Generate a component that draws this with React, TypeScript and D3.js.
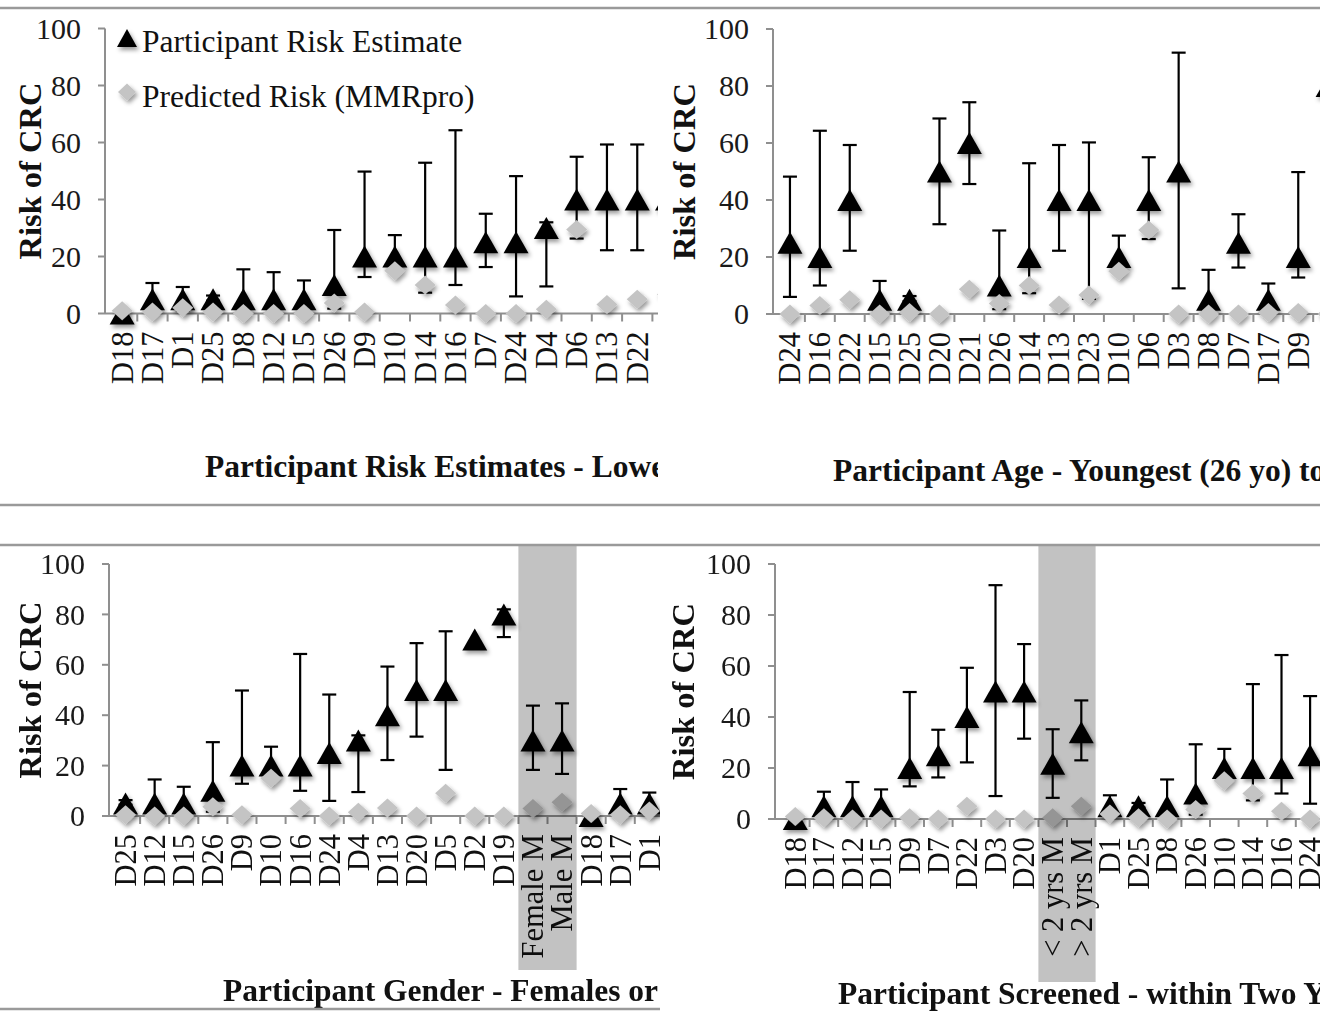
import * as d3 from 'd3';

// participant values (risk of CRC, %)
const participants = ['D1', 'D2', 'D3', 'D4', 'D5', 'D6', 'D7', 'D8', 'D9', 'D10', 'D12', 'D13', 'D14', 'D15', 'D16', 'D17', 'D18', 'D19', 'D20', 'D21', 'D22', 'D23', 'D24', 'D25', 'D26', 'Female M', 'Male M', '< 2 yrs M', '> 2 yrs M'];
const estimate = [5, 70, 50, 30, 50, 40, 25, 5, 20, 20, 5, 40, 20, 5, 20, 5, 0, 80, 50, 60, 40, 40, 25, 5, 10, 30, 30, 21.7, 34];
const errLow = [1, 70, 9, 9.5, 18.3, 26.3, 16.3, 1, 12.8, 15, 1, 22.2, 7.3, 1, 10, 1, 0, 71, 31.5, 45.6, 22.2, 5.3, 6, 4.5, 1.7, 18.3, 16.7, 8.3, 23];
const errHigh = [9.3, 70, 91.7, 32, 73.3, 55, 35, 15.5, 49.8, 27.5, 14.5, 59.3, 52.9, 11.6, 64.3, 10.7, 0, 82, 68.6, 74.3, 59.3, 60.2, 48.2, 6.3, 29.3, 43.8, 44.7, 35.2, 46.5];
const predicted = [2, 0, 0, 1.5, 9, 29.5, 0, 0, 0.5, 15, 0, 3.2, 10, 0, 3, 0.5, 1, 0, 0, 8.7, 5, 6.7, 0, 0.5, 3.7, 3, 5.5, 0.5, 5];

// category order of each panel
const riskOrder = ['D18', 'D17', 'D1', 'D25', 'D8', 'D12', 'D15', 'D26', 'D9', 'D10', 'D14', 'D16', 'D7', 'D24', 'D4', 'D6', 'D13', 'D22', 'D23'];
const ageOrder = ['D24', 'D16', 'D22', 'D15', 'D25', 'D20', 'D21', 'D26', 'D14', 'D13', 'D23', 'D10', 'D6', 'D3', 'D8', 'D7', 'D17', 'D9', 'D19'];
const genderOrder = ['D25', 'D12', 'D15', 'D26', 'D9', 'D10', 'D16', 'D24', 'D4', 'D13', 'D20', 'D5', 'D2', 'D19', 'Female M', 'Male M', 'D18', 'D17', 'D1'];
const screenedOrder = ['D18', 'D17', 'D12', 'D15', 'D9', 'D7', 'D22', 'D3', 'D20', '< 2 yrs M', '> 2 yrs M', 'D1', 'D25', 'D8', 'D26', 'D10', 'D14', 'D16', 'D24'];

const genderShade = ['Female M', 'Male M'];
const screenedShade = ['< 2 yrs M', '> 2 yrs M'];

const yTicks = [0, 20, 40, 60, 80, 100];
const seriesNames = ['Participant Risk Estimate', 'Predicted Risk (MMRpro)'];
const yTitle = 'Risk of CRC';
const titles = [
  'Participant Risk Estimates - Lowest to Highest',
  'Participant Age - Youngest (26 yo) to Oldest',
  'Participant Gender - Females or Males',
  'Participant Screened - within Two Years or Not',
];

const byId = new Map(participants.map((p, i) => [p, i]));

const panels = [
  { order: riskOrder, shade: null, clip: [0, 8, 658, 497], axisX: 105, xStart: 107, band: 30.3, y0: 313.5, y100: 28.5, yTitleX: 30, titleX: 205, titleY: 466, legend: true },
  { order: ageOrder, shade: null, clip: [660, 8, 660, 497], axisX: 773, xStart: 775, band: 29.9, y0: 314, y100: 29, yTitleX: 684, titleX: 833, titleY: 470, legend: false },
  { order: genderOrder, shade: genderShade, clip: [0, 505, 660, 506], axisX: 109, xStart: 111, band: 29.1, y0: 816, y100: 564, yTitleX: 30, titleX: 223, titleY: 990, shadeBottom: 970, legend: false },
  { order: screenedOrder, shade: screenedShade, clip: [660, 505, 660, 506], axisX: 775, xStart: 781, band: 28.6, y0: 819, y100: 564, yTitleX: 683, titleX: 838, titleY: 993, shadeBottom: 982, legend: false },
];

const FONT = "'Liberation Serif', 'Times New Roman', serif";
const AXIS = '#8f8f8f';
const TRI_W = 25, TRI_H = 22;
const DIA_W = 21, DIA_H = 19;

const triangle = (w: number, h: number) => `M0,${-h / 2}L${w / 2},${h / 2}L${-w / 2},${h / 2}Z`;
const diamond = (w: number, h: number) => `M0,${-h / 2}L${w / 2},0L0,${h / 2}L${-w / 2},0Z`;

function Panel({ p, idx }: { p: any; idx: number }) {
  const x = d3.scaleBand().domain(p.order).range([p.xStart, p.xStart + p.band * p.order.length]);
  const y = d3.scaleLinear().domain([0, 100]).range([p.y0, p.y100]);
  const cx = (d: string) => (x(d) as number) + x.bandwidth() / 2;
  const [cl, ct, cw] = p.clip;
  const rows = p.order.map((d: string) => ({ id: d, i: byId.get(d) as number }));
  // labels whose glyphs would start past the panel edge are not drawn
  const labelled = p.order.filter((d: string) => cx(d) < cl + cw - 8);

  return (
    <g clipPath={`url(#clip${idx})`}>
      {/* y axis */}
      <line x1={p.axisX} x2={p.axisX} y1={y(0)} y2={y(100)} stroke={AXIS} strokeWidth={2} />
      {yTicks.map((t) => (
        <g key={t}>
          <line x1={p.axisX - 7} x2={p.axisX} y1={y(t)} y2={y(t)} stroke={AXIS} strokeWidth={2} />
          <text x={p.axisX - 24} y={y(t)} dy="0.34em" textAnchor="end" fontSize={30} fill="#1a1a1a">{t}</text>
        </g>
      ))}
      <text transform={`translate(${p.yTitleX},${(y(0) + y(100)) / 2}) rotate(-90)`} dy="0.34em" textAnchor="middle" fontSize={32.5} fontWeight="bold" fill="#111">{yTitle}</text>

      {/* x axis */}
      <line x1={p.axisX} x2={cl + cw} y1={y(0)} y2={y(0)} stroke={AXIS} strokeWidth={2} />
      {p.order.map((d: string) => (
        <line key={d} x1={(x(d) as number) + x.bandwidth()} x2={(x(d) as number) + x.bandwidth()} y1={y(0)} y2={y(0) + 8} stroke={AXIS} strokeWidth={2} />
      ))}
      {labelled.map((d: string) => (
        <text key={d} transform={`translate(${cx(d)},${y(0) + 18}) rotate(-90)`} dy="0.34em" textAnchor="end" fontSize={30.5} fill="#111">{d}</text>
      ))}

      {/* error bars */}
      {rows.filter((r: any) => errHigh[r.i] > errLow[r.i]).map((r: any) => (
        <g key={r.id} stroke="#000" strokeWidth={2.2}>
          <line x1={cx(r.id)} x2={cx(r.id)} y1={y(errLow[r.i])} y2={y(errHigh[r.i])} />
          <line x1={cx(r.id) - 7} x2={cx(r.id) + 7} y1={y(errLow[r.i])} y2={y(errLow[r.i])} />
          <line x1={cx(r.id) - 7} x2={cx(r.id) + 7} y1={y(errHigh[r.i])} y2={y(errHigh[r.i])} />
        </g>
      ))}
      {/* participant estimate */}
      {rows.map((r: any) => (
        <path key={r.id} d={triangle(TRI_W, TRI_H)} transform={`translate(${cx(r.id)},${y(estimate[r.i])})`} fill="#000" filter="url(#shadow)" />
      ))}
      {/* predicted risk */}
      {rows.map((r: any) => (
        <path key={r.id} d={diamond(DIA_W, DIA_H)} transform={`translate(${cx(r.id)},${y(predicted[r.i])})`} fill="#c4c4c4" filter="url(#shadow)" />
      ))}

      {p.shade && (
        <rect x={x(p.shade[0]) as number} width={x.bandwidth() * p.shade.length} y={ct + 41} height={p.shadeBottom - ct - 41} fill="#c2c2c2" style={{ mixBlendMode: 'multiply' }} />
      )}

      {p.legend && (
        <g>
          <path d={triangle(20, 18)} transform="translate(127,38)" fill="#000" filter="url(#shadow)" />
          <text x={142} y={41} dy="0.34em" fontSize={31.5} fill="#111">{seriesNames[0]}</text>
          <path d={diamond(18, 17)} transform="translate(127,92)" fill="#c4c4c4" filter="url(#shadow)" />
          <text x={142} y={96} dy="0.34em" fontSize={31.5} fill="#111">{seriesNames[1]}</text>
        </g>
      )}

      <text x={p.titleX} y={p.titleY} dy="0.34em" fontSize={31.5} fontWeight="bold" fill="#111">{titles[idx]}</text>
    </g>
  );
}

export default function App() {
  return (
    <div style={{ position: 'absolute', left: 0, top: 0, background: '#fff' }}>
      <svg width={1338} height={1011} fontFamily={FONT} style={{ display: 'block', background: '#fff' }}>
        <defs>
          <filter id="shadow" x="-50%" y="-50%" width="200%" height="200%">
            <feDropShadow dx={2} dy={3} stdDeviation={2} floodColor="#000" floodOpacity={0.4} />
          </filter>
          {panels.map((p, i) => (
            <clipPath id={`clip${i}`} key={i}>
              <rect x={p.clip[0]} y={p.clip[1]} width={p.clip[2]} height={p.clip[3]} />
            </clipPath>
          ))}
        </defs>
        {panels.map((p, i) => (
          <Panel key={i} p={p} idx={i} />
        ))}
        {/* frame lines */}
        <g stroke="#9a9a9a" strokeWidth={2.5}>
          <line x1={0} x2={1320} y1={8} y2={8} />
          <line x1={0} x2={1320} y1={505} y2={505} />
          <line x1={0} x2={1320} y1={545} y2={545} />
          <line x1={0} x2={660} y1={1009} y2={1009} />
        </g>
      </svg>
    </div>
  );
}
